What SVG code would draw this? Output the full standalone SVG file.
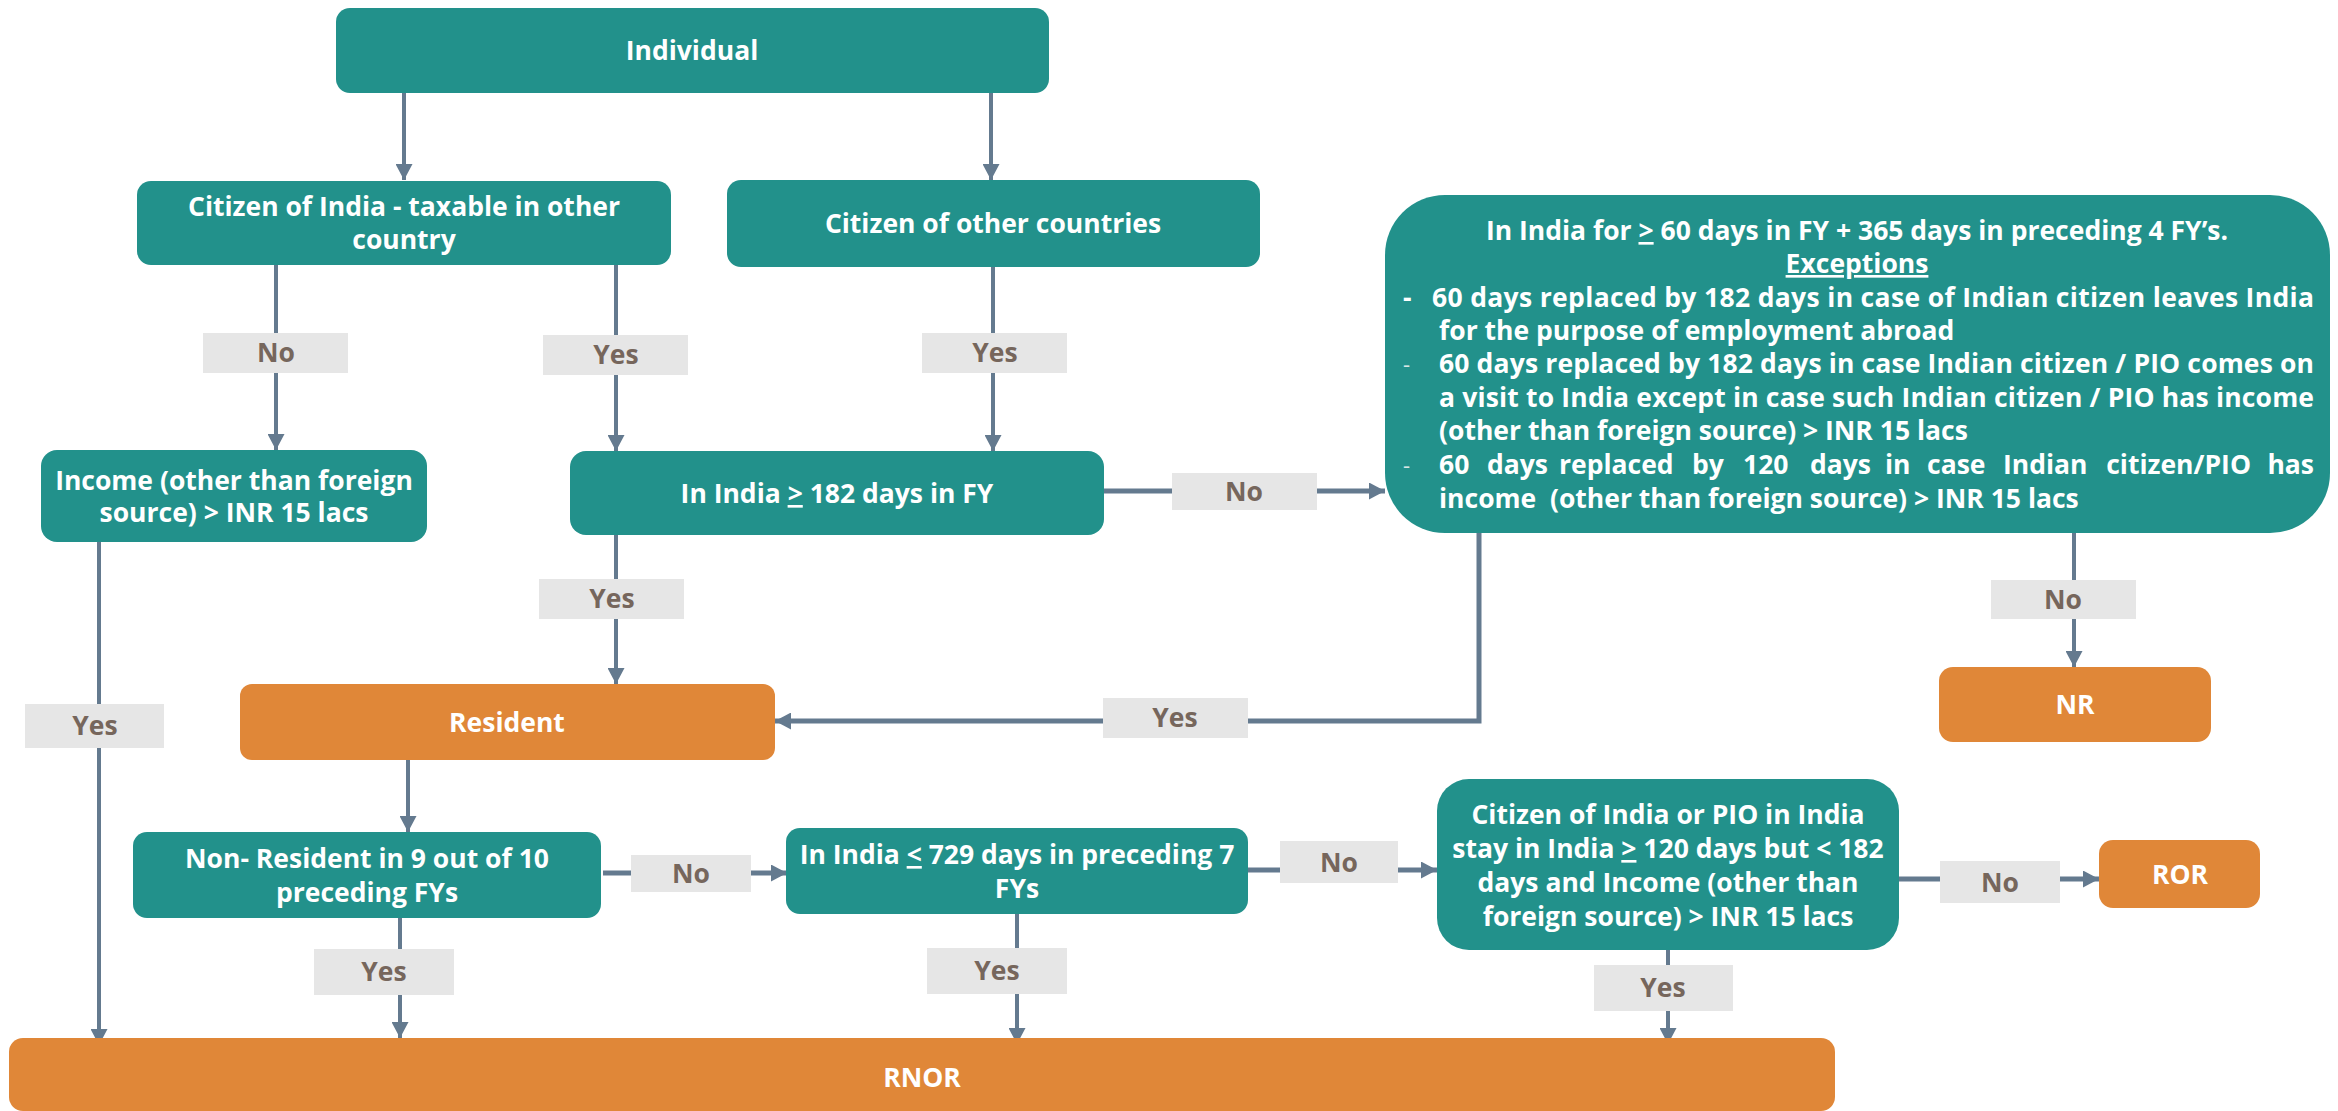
<svg xmlns="http://www.w3.org/2000/svg" width="2338" height="1111" viewBox="0 0 2338 1111">
<defs>
<marker id="ah" markerUnits="userSpaceOnUse" markerWidth="17" markerHeight="17" refX="16" refY="8.5" orient="auto">
<path d="M0,0 L16,8.5 L0,17 z" fill="#647A8F"/>
</marker>
<style>
.teal{fill:#22918B}
.orange{fill:#E08738}
.nt{font-family:"Open Sans","Liberation Sans",sans-serif;font-weight:700;font-size:26.5px;fill:#ffffff;text-anchor:middle}
.bt{font-family:"Open Sans","Liberation Sans",sans-serif;font-weight:700;font-size:26.5px;fill:#ffffff}
.dash{font-family:"Open Sans","Liberation Sans",sans-serif;font-weight:400;font-size:22px;fill:#d8e6e5}
.ln{stroke:#647A8F;stroke-width:4;fill:none}
.thick{stroke-width:5}
.lb{fill:#E6E6E6}
.lt{font-family:"Open Sans","Liberation Sans",sans-serif;font-weight:700;font-size:26.5px;fill:#76665C;text-anchor:middle}
.u{text-decoration:underline}
</style>
</defs>
<rect width="2338" height="1111" fill="#ffffff"/>

<g id="connectors">
<path class="ln" d="M404,93 V180" marker-end="url(#ah)"/>
<path class="ln" d="M991,93 V180" marker-end="url(#ah)"/>
<path class="ln" d="M276,265 V450" marker-end="url(#ah)"/>
<path class="ln" d="M616,265 V451" marker-end="url(#ah)"/>
<path class="ln" d="M993,267 V451" marker-end="url(#ah)"/>
<path class="ln thick" d="M1104,491 H1385" marker-end="url(#ah)"/>
<path class="ln" d="M616,535 V684" marker-end="url(#ah)"/>
<path class="ln" d="M99,542 V1045" marker-end="url(#ah)"/>
<path class="ln thick" d="M1479,533 V721 H775" marker-end="url(#ah)"/>
<path class="ln" d="M2074,533 V667" marker-end="url(#ah)"/>
<path class="ln" d="M408,760 V832" marker-end="url(#ah)"/>
<path class="ln thick" d="M603,873 H787" marker-end="url(#ah)"/>
<path class="ln" d="M400,918 V1038" marker-end="url(#ah)"/>
<path class="ln" d="M1017,914 V1044" marker-end="url(#ah)"/>
<path class="ln thick" d="M1248,870 H1437" marker-end="url(#ah)"/>
<path class="ln thick" d="M1899,879 H2099" marker-end="url(#ah)"/>
<path class="ln" d="M1668,950 V1044" marker-end="url(#ah)"/>

<rect class="lb" x="203" y="333" width="145" height="40"/><text class="lt" x="276" y="362">No</text>
<rect class="lb" x="543" y="335" width="145" height="40"/><text class="lt" x="616" y="364">Yes</text>
<rect class="lb" x="922" y="333" width="145" height="40"/><text class="lt" x="995" y="362">Yes</text>
<rect class="lb" x="1172" y="473" width="145" height="37"/><text class="lt" x="1244" y="501">No</text>
<rect class="lb" x="539" y="579" width="145" height="40"/><text class="lt" x="612" y="608">Yes</text>
<rect class="lb" x="25" y="704" width="139" height="44"/><text class="lt" x="95" y="735">Yes</text>
<rect class="lb" x="1103" y="698" width="145" height="40"/><text class="lt" x="1175" y="727">Yes</text>
<rect class="lb" x="1991" y="580" width="145" height="39"/><text class="lt" x="2063" y="609">No</text>
<rect class="lb" x="631" y="855" width="120" height="37"/><text class="lt" x="691" y="883">No</text>
<rect class="lb" x="314" y="949" width="140" height="46"/><text class="lt" x="384" y="981">Yes</text>
<rect class="lb" x="927" y="948" width="140" height="46"/><text class="lt" x="997" y="980">Yes</text>
<rect class="lb" x="1280" y="841" width="118" height="42"/><text class="lt" x="1339" y="872">No</text>
<rect class="lb" x="1940" y="861" width="120" height="42"/><text class="lt" x="2000" y="892">No</text>
<rect class="lb" x="1594" y="965" width="139" height="46"/><text class="lt" x="1663" y="997">Yes</text>
</g>

<g id="individual">
<rect class="teal" x="336" y="8" width="713" height="85" rx="14"/>
<text class="nt" x="692" y="60">Individual</text>
</g>

<g id="citizen-india">
<rect class="teal" x="137" y="181" width="534" height="84" rx="14"/>
<text class="nt" x="404" y="216">Citizen of India - taxable in other</text>
<text class="nt" x="404" y="249">country</text>
</g>

<g id="citizen-other">
<rect class="teal" x="727" y="180" width="533" height="87" rx="14"/>
<text class="nt" x="993" y="233">Citizen of other countries</text>
</g>

<g id="income">
<rect class="teal" x="41" y="450" width="386" height="92" rx="16"/>
<text class="nt" x="234" y="490">Income (other than foreign</text>
<text class="nt" x="234" y="522">source) &gt; INR 15 lacs</text>
</g>

<g id="in-india-182">
<rect class="teal" x="570" y="451" width="534" height="84" rx="16"/>
<text class="nt" x="837" y="503">In India <tspan class="u">&gt;</tspan> 182 days in FY</text>
</g>

<g id="in-india-60">
<rect class="teal" x="1385" y="195" width="945" height="338" rx="60"/>
<text class="nt" x="1857" y="240">In India for <tspan class="u">&gt;</tspan> 60 days in FY + 365 days in preceding 4 FY’s.</text>
<text class="nt u" x="1857" y="273">Exceptions</text>
<text class="bt" x="1403" y="307">-</text>
<text class="bt" x="1432" y="307" textLength="882" lengthAdjust="spacing">60 days replaced by 182 days in case of Indian citizen leaves India</text>
<text class="bt" x="1439" y="340">for the purpose of employment abroad</text>
<text class="dash" x="1403" y="372">-</text>
<text class="bt" x="1439" y="373" textLength="875" lengthAdjust="spacing">60 days replaced by 182 days in case Indian citizen / PIO comes on</text>
<text class="bt" x="1439" y="407" textLength="875" lengthAdjust="spacing">a visit to India except in case such Indian citizen / PIO has income</text>
<text class="bt" x="1439" y="440">(other than foreign source) &gt; INR 15 lacs</text>
<text class="dash" x="1403" y="473">-</text>
<text class="bt" y="474"><tspan x="1439">60</tspan><tspan x="1487">days</tspan><tspan x="1559">replaced</tspan><tspan x="1692">by</tspan><tspan x="1743">120</tspan><tspan x="1810">days</tspan><tspan x="1885">in</tspan><tspan x="1927">case</tspan><tspan x="2003">Indian</tspan></text>
<text class="bt" y="474" style="text-anchor:end"><tspan x="2251">citizen/PIO</tspan><tspan x="2314">has</tspan></text>
<text class="bt" x="1439" y="508" xml:space="preserve">income  (other than foreign source) &gt; INR 15 lacs</text>
</g>

<g id="resident">
<rect class="orange" x="240" y="684" width="535" height="76" rx="12"/>
<text class="nt" x="507" y="732">Resident</text>
</g>

<g id="nr">
<rect class="orange" x="1939" y="667" width="272" height="75" rx="14"/>
<text class="nt" x="2075" y="714">NR</text>
</g>

<g id="non-resident-9-of-10">
<rect class="teal" x="133" y="832" width="468" height="86" rx="14"/>
<text class="nt" x="367" y="868">Non- Resident in 9 out of 10</text>
<text class="nt" x="367" y="902">preceding FYs</text>
</g>

<g id="in-india-729">
<rect class="teal" x="786" y="828" width="462" height="86" rx="14"/>
<text class="nt" x="1017" y="864">In India <tspan class="u">&lt;</tspan> 729 days in preceding 7</text>
<text class="nt" x="1017" y="898">FYs</text>
</g>

<g id="citizen-pio">
<rect class="teal" x="1437" y="779" width="462" height="171" rx="32"/>
<text class="nt" x="1668" y="824">Citizen of India or PIO in India</text>
<text class="nt" x="1668" y="858">stay in India <tspan class="u">&gt;</tspan> 120 days but &lt; 182</text>
<text class="nt" x="1668" y="892">days and Income (other than</text>
<text class="nt" x="1668" y="926">foreign source) &gt; INR 15 lacs</text>
</g>

<g id="ror">
<rect class="orange" x="2099" y="840" width="161" height="68" rx="14"/>
<text class="nt" x="2180" y="884">ROR</text>
</g>

<g id="rnor">
<rect class="orange" x="9" y="1038" width="1826" height="73" rx="14"/>
<text class="nt" x="922" y="1087">RNOR</text>
</g>
</svg>
